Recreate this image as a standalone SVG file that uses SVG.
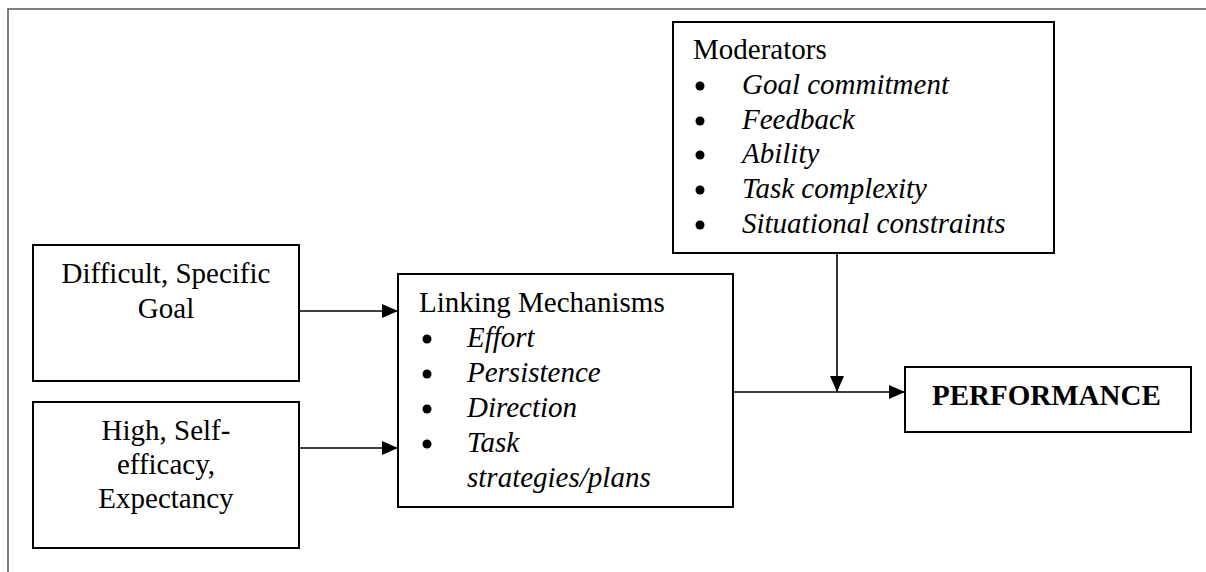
<svg xmlns="http://www.w3.org/2000/svg" width="1206" height="572" viewBox="0 0 1206 572">
<style>
.box{fill:#fff;stroke:#000;stroke-width:2}
.t{font-family:"Liberation Serif","Times New Roman",serif;font-size:29px;fill:#000}
.c{text-anchor:middle}
.i{font-style:italic}
.b{font-weight:bold}
.line{stroke:#000;stroke-width:1.6;fill:none}
.frame{stroke:#555;stroke-width:1.5;fill:none}
</style>
<defs>
<marker id="ah" markerUnits="userSpaceOnUse" markerWidth="16" markerHeight="14" refX="16" refY="7" orient="auto">
<path d="M0,0 L16,7 L0,14 Z" fill="#000"/>
</marker>
</defs>
<path class="frame" d="M8,572 L8,9 L1206,9"/>
<g id="goal">
<rect class="box" x="33" y="245" width="266" height="136"/>
<text class="t c" x="166" y="283">Difficult, Specific</text>
<text class="t c" x="166" y="318">Goal</text>
</g>
<g id="efficacy">
<rect class="box" x="33" y="402" width="266" height="146"/>
<text class="t c" x="166" y="440">High, Self-</text>
<text class="t c" x="166" y="474">efficacy,</text>
<text class="t c" x="166" y="508">Expectancy</text>
</g>
<g id="linking">
<rect class="box" x="398" y="274" width="335" height="233"/>
<text class="t" x="419" y="312">Linking Mechanisms</text>
<circle cx="427" cy="339" r="4.5"/>
<text class="t i" x="467" y="347">Effort</text>
<circle cx="427" cy="374" r="4.5"/>
<text class="t i" x="467" y="382">Persistence</text>
<circle cx="427" cy="409" r="4.5"/>
<text class="t i" x="467" y="417">Direction</text>
<circle cx="427" cy="444" r="4.5"/>
<text class="t i" x="467" y="452">Task</text>
<text class="t i" x="467" y="487">strategies/plans</text>
</g>
<g id="moderators">
<rect class="box" x="673" y="22" width="381" height="231"/>
<text class="t" x="693" y="59">Moderators</text>
<circle cx="700" cy="86" r="4.5"/>
<text class="t i" x="742" y="94">Goal commitment</text>
<circle cx="700" cy="121" r="4.5"/>
<text class="t i" x="742" y="129">Feedback</text>
<circle cx="700" cy="155" r="4.5"/>
<text class="t i" x="742" y="163">Ability</text>
<circle cx="700" cy="190" r="4.5"/>
<text class="t i" x="742" y="198">Task complexity</text>
<circle cx="700" cy="225" r="4.5"/>
<text class="t i" x="742" y="233">Situational constraints</text>
</g>
<g id="performance">
<rect class="box" x="905" y="367" width="286" height="65"/>
<text class="t b" x="932" y="405">PERFORMANCE</text>
</g>
<g id="connectors">
<line class="line" x1="299" y1="311" x2="398" y2="311" marker-end="url(#ah)"/>
<line class="line" x1="299" y1="448" x2="398" y2="448" marker-end="url(#ah)"/>
<line class="line" x1="733" y1="392" x2="905" y2="392" marker-end="url(#ah)"/>
<line class="line" x1="837" y1="253" x2="837" y2="392" marker-end="url(#ah)"/>
</g>
</svg>
